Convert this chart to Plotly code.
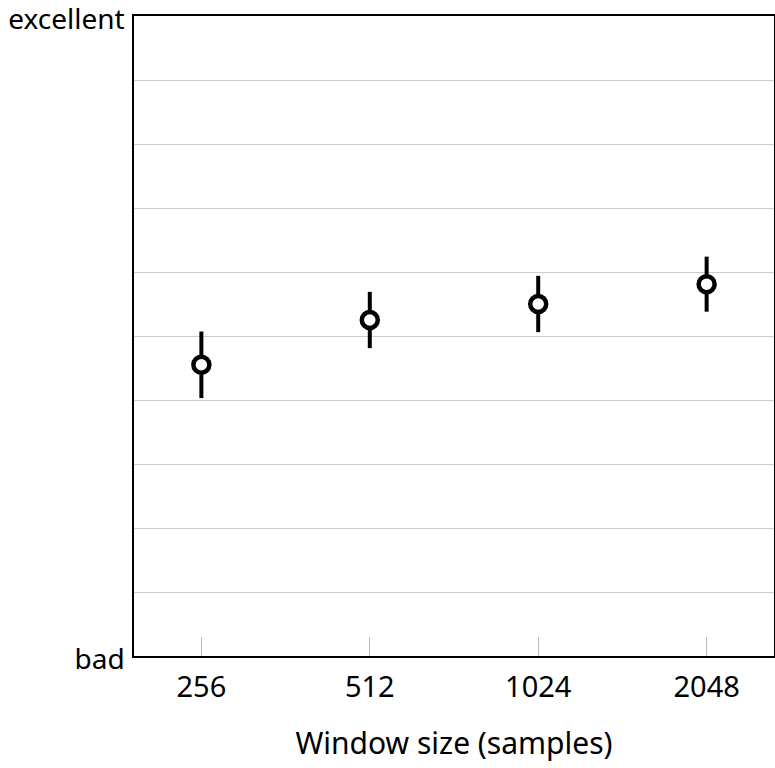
import plotly.graph_objects as go

categories = ["256", "512", "1024", "2048"]
means = [45.5, 52.5, 55.0, 58.1]
errors = [5.2, 4.4, 4.4, 4.3]
y_tick_vals = [0, 10, 20, 30, 40, 50, 60, 70, 80, 90, 100]
y_tick_text = ["bad", "", "", "", "", "", "", "", "", "", "excellent"]

FONT = "Noto Sans"

fig = go.Figure()
fig.add_trace(go.Scatter(
    x=categories, y=means, mode="markers",
    error_y=dict(type="data", array=errors, visible=True, color="black", thickness=4, width=0),
    marker=dict(symbol="circle", size=16, color="white", line=dict(color="black", width=4.5)),
    showlegend=False,
))

fig.update_layout(
    width=775, height=768,
    margin=dict(l=134, r=1, t=16, b=112),
    plot_bgcolor="white", paper_bgcolor="white",
    font=dict(family=FONT, size=26, color="black"),
    xaxis=dict(
        type="category", range=[-0.4, 3.4], automargin=False,
        showline=True, linecolor="black", linewidth=1.5, mirror=True,
        showgrid=False, ticks="inside", ticklen=19, tickcolor="#bbbbbb", tickwidth=1,
        title=dict(text="Window size (samples)", standoff=29, font=dict(size=30)),
        tickfont=dict(size=29), ticklabelstandoff=4,
    ),
    yaxis=dict(
        range=[0, 100], tickvals=y_tick_vals, ticktext=y_tick_text, automargin=False,
        showline=True, linecolor="black", linewidth=1.5, mirror=True,
        showgrid=True, gridcolor="#cccccc", gridwidth=1,
        zeroline=False, ticks="", ticklabelstandoff=2, ticklabelshift=3,
        ticklabeloverflow="allow",
        tickfont=dict(size=28),
    ),
)

fig.write_html("out.html", config={"displayModeBar": False},
               post_script="document.body.style.margin='0';")
